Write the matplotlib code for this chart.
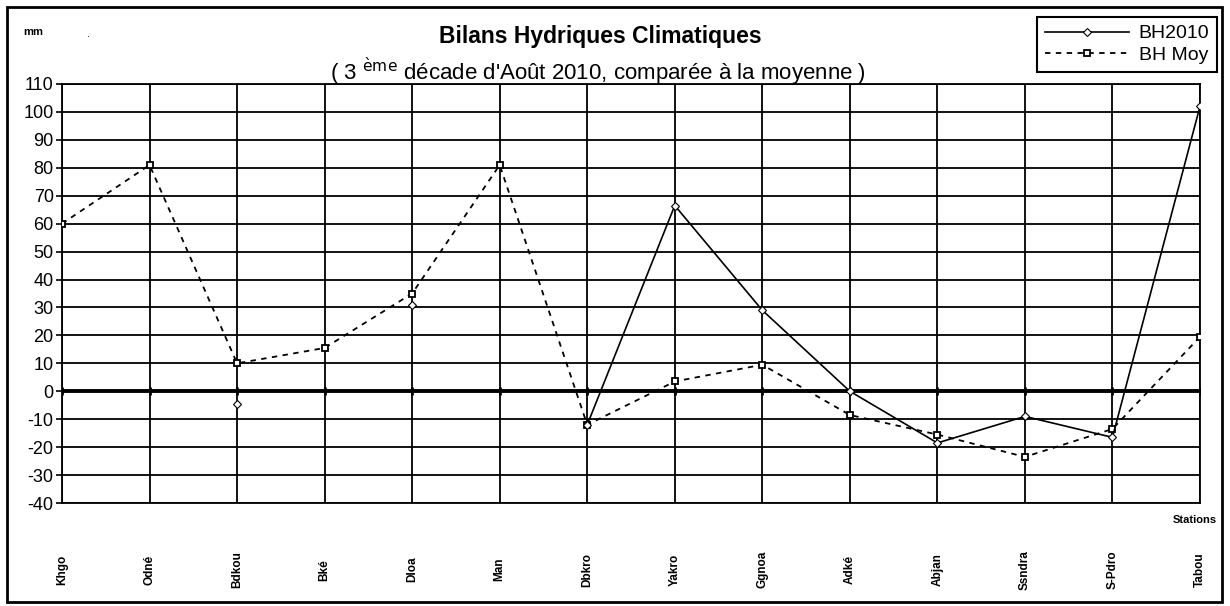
import numpy as np
import matplotlib
matplotlib.use("Agg")
import matplotlib.pyplot as plt
from matplotlib.patches import Rectangle

plt.rcParams['font.family'] = ['Liberation Sans', 'DejaVu Sans']

stations = ["Khgo", "Odné", "Bdkou", "Bké", "Dloa", "Man", "Dbkro", "Yakro",
            "Ggnoa", "Adké", "Abjan", "Ssndra", "S-Pdro", "Tabou"]
bh2010 = [np.nan, np.nan, -4.5, np.nan, 31, np.nan, -12, 66.5,
          29, 0, -18.5, -9, -16.5, 102]
bh_moy = [60, 81, 10, 15.5, 35, 81, -12, 3.5,
          9.5, -8.5, -15.5, -23.5, -13.5, 19.5]
y_ticks = list(range(-40, 111, 10))

x = np.arange(len(stations))

fig = plt.figure(figsize=(12.3, 6.06), dpi=100)
ax = fig.add_axes([62/1230, 103/606, 1138/1230, 419/606])

ax.set_xlim(0, len(stations) - 1)
ax.set_ylim(-40, 110)
ax.set_yticks(y_ticks)
ax.set_yticklabels([str(v) for v in y_ticks], fontsize=13)
ax.set_xticks(x)
ax.set_xticklabels(stations, rotation=90, va='center', fontsize=8.5, fontweight='bold')
ax.tick_params(axis='x', length=0, pad=48)
ax.tick_params(axis='y', length=4, width=1.2, pad=2)
ax.grid(True, color='black', linewidth=1.3)
for s in ax.spines.values():
    s.set_linewidth(1.3)
ax.axhline(0, color='black', linewidth=2.8, zorder=2)
ax.plot(x, np.zeros(len(x)), linestyle='none', marker='|', markersize=6,
        markeredgewidth=2, color='black', zorder=2)

ax.plot(x, bh2010, color='black', linewidth=1.2, marker='D', markersize=4,
        markerfacecolor='white', markeredgecolor='black', markeredgewidth=0.8,
        label='BH2010', zorder=4)
ax.plot(x, bh_moy, color='black', linewidth=1.3, linestyle=(0, (3, 3)),
        marker='s', markersize=4.5, markerfacecolor='white',
        markeredgecolor='black', markeredgewidth=1.3, label='BH Moy', zorder=3)

fig.text(600/1230, 1 - 36/606, "Bilans Hydriques Climatiques", ha='center',
         va='center', fontsize=16.5, fontweight='bold')
fig.text(598/1230, 1 - 72/606,
         r"( 3 $^{\mathrm{\`eme}}$ décade d'Août 2010, comparée à la moyenne )",
         ha='center', va='center', fontsize=16)
fig.text(33/1230, 1 - 32/606, "mm", ha='center', va='center', fontsize=8,
         fontweight='bold')
fig.text(88/1230, 1 - 34/606, ".", ha='center', va='center', fontsize=8)
fig.text(1195/1230, 1 - 520/606, "Stations", ha='center', va='center',
         fontsize=8, fontweight='bold')

leg = fig.legend(loc='upper right', bbox_to_anchor=(1217/1230, 1 - 17/606),
                 fontsize=14, frameon=True, fancybox=False, framealpha=1,
                 edgecolor='black', handlelength=4.3, borderpad=0.4,
                 labelspacing=0.2, handletextpad=0.5, borderaxespad=0)
leg.get_frame().set_linewidth(1.5)

fig.patches.append(Rectangle((7/1230, 4/606), 1215/1230, 595/606,
                             transform=fig.transFigure, fill=False,
                             edgecolor='black', linewidth=2))

fig.savefig("out.png", dpi=100)
